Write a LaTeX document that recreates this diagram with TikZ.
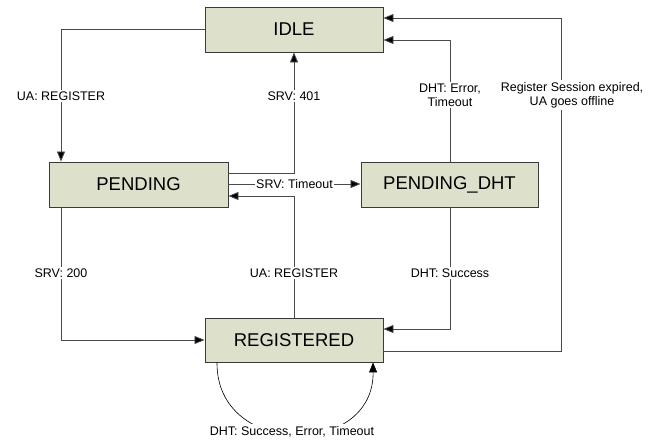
\documentclass[tikz,border=0pt]{standalone}
\usepackage{fontspec}
\setmainfont{Liberation Sans}
\usetikzlibrary{arrows.meta}
\definecolor{boxfill}{HTML}{DDE0CB}
\definecolor{boxline}{HTML}{3A3A3A}
\definecolor{wire}{HTML}{4A4A4A}
\tikzset{
  state/.style={draw=boxline, line width=0.9pt, fill=boxfill, minimum width=178pt,
    minimum height=45pt, inner sep=0pt, font=\fontsize{18.5}{20}\selectfont},
  edge/.style={draw=wire, line width=0.8pt, -{Triangle[length=10pt,width=8pt,fill=black]}},
  lbl/.style={fill=white, inner sep=1.5pt, align=center, font=\fontsize{12.5}{14}\selectfont}
}
\begin{document}
\begin{tikzpicture}[x=1pt, y=-1pt]
\useasboundingbox (0,0) rectangle (655,441);

% states
\node[state] (idle) at (294,29.5) {IDLE};
\node[state, minimum width=179pt] (pend) at (138.5,184.5) {PENDING};
\node[state, minimum width=177pt] (pdht) at (449.5,184.5) {PENDING\_DHT};
\node[state, minimum height=44pt] (reg) at (294,340) {REGISTERED};

% bend points of the connectors
\coordinate (c1) at (61,29);
\coordinate (c2) at (294,173);
\coordinate (c3) at (294,196);
\coordinate (c4) at (450,40);
\coordinate (c5) at (561,351);
\coordinate (c6) at (561,18);
\coordinate (c7) at (61,340);
\coordinate (c8) at (450,329);

% IDLE -> PENDING
\draw[edge] (idle.west |- c1) -- (c1) -- (c1 |- pend.north);
\node[lbl] at (61,96) {UA: REGISTER};

% PENDING -> IDLE
\draw[edge] (pend.east |- c2) -- (c2) -- (c2 |- idle.south);
\node[lbl] at (294,96) {SRV: 401};

% PENDING -> PENDING_DHT
\draw[edge] (pend.east |- 0,184) -- (pdht.west |- 0,184);
\node[lbl, inner sep=1pt] at (294.5,184) {SRV: Timeout};

% REGISTERED -> PENDING
\draw[edge] (reg.north -| c3) -- (c3) -- (pend.east |- c3);
\node[lbl] at (294,273) {UA: REGISTER};

% PENDING_DHT -> IDLE
\draw[edge] (pdht.north -| c4) -- (c4) -- (idle.east |- c4);
\node[lbl] at (450,95) {DHT: Error,\\Timeout};

% REGISTERED -> IDLE
\draw[edge] (reg.east |- c5) -- (c5) -- (c6) -- (idle.east |- c6);
\node[lbl, inner sep=2.5pt] at (572,95) {Register Session expired,\\UA goes offline};

% PENDING -> REGISTERED
\draw[edge] (pend.south -| c7) -- (c7) -- (reg.west |- c7);
\node[lbl] at (61,273) {SRV: 200};

% PENDING_DHT -> REGISTERED
\draw[edge] (pdht.south -| c8) -- (c8) -- (reg.east |- c8);
\node[lbl] at (450,273) {DHT: Success};

% REGISTERED self loop, its lowest part hidden under the label
\draw[edge, draw=black, line width=0.6pt] (reg.south -| 217,0) .. controls (216,458) and (374,458) .. (reg.south -| 373,0);
\node[lbl, inner ysep=3pt, inner xsep=2pt] at (292,432) {DHT: Success, Error, Timeout};
\end{tikzpicture}
\end{document}
